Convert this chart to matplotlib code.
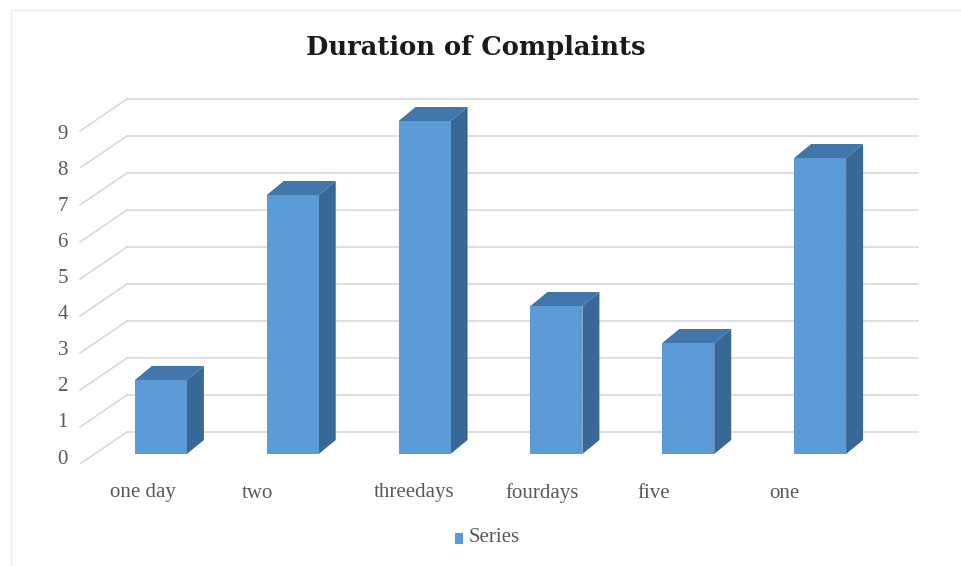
import matplotlib
matplotlib.use("Agg")
import matplotlib.pyplot as plt
from matplotlib.patches import Polygon
from matplotlib.lines import Line2D

categories = ["one day", "two", "threedays", "fourdays", "five", "one"]
values = [2, 7, 9, 4, 3, 8]
y_ticks = list(range(0, 10))
series_name = "Series"
title = "Duration of Complaints"

W, H, DPI = 962, 566, 100
fig = plt.figure(figsize=(W / DPI, H / DPI), dpi=DPI)

# front plane of the plot area (pixels from left / top)
left_px, right_px = 95, 886
zero_px, top_px = 454, 121
ax = fig.add_axes([left_px / W, (H - zero_px) / H,
                   (right_px - left_px) / W, (zero_px - top_px) / H])
n = len(categories)
ax.set_xlim(-0.5, n - 0.5)
ax.set_ylim(0, max(y_ticks))
ax.axis("off")

px_x = (right_px - left_px) / n          # pixels per category
px_y = (zero_px - top_px) / max(y_ticks)  # pixels per value unit


def dx(p):
    return p / px_x


def dy(p):
    return p / px_y


label_font = dict(fontsize=15, color="#595959", family="Liberation Serif")
grid_col = "#d9d9d9"

# back wall gridlines and side-wall diagonals
wall_dx, wall_dy = 32, 22
for v in y_ticks:
    xb0 = -0.5 + dx(wall_dx)
    xb1 = n - 0.5 + dx(wall_dx)
    yb = v + dy(wall_dy)
    ax.add_line(Line2D([xb0, xb1], [yb, yb], color=grid_col, lw=1.2,
                       clip_on=False, zorder=1))
    ax.add_line(Line2D([xb0, -0.5 - dx(15)], [yb, v - dy(10)],
                       color=grid_col, lw=1.2, clip_on=False, zorder=1))
    ax.text(-0.5 - dx(27), v - dy(5 + 0.9 * v), str(v), ha="right", va="center",
            **label_font)

# 3D-style bars
bw = 52 / px_x
ddx, ddy = dx(17), dy(14)
front_col, side_col, top_col = "#5b9bd5", "#3a6896", "#4176aa"
for i, v in enumerate(values):
    x0, x1 = i - bw / 2, i + bw / 2
    ax.add_patch(Polygon([(x1, 0), (x1 + ddx, ddy), (x1 + ddx, v + ddy), (x1, v)],
                         closed=True, facecolor=side_col, edgecolor="none",
                         zorder=3, clip_on=False))
    ax.add_patch(Polygon([(x0, v), (x1, v), (x1 + ddx, v + ddy), (x0 + ddx, v + ddy)],
                         closed=True, facecolor=top_col, edgecolor="none",
                         zorder=3, clip_on=False))
    ax.bar(i, v, width=bw, color=front_col, edgecolor="none", zorder=4,
           clip_on=False)
    ax.text(i - dx(51), -dy(39), categories[i], ha="left", va="center",
            **label_font)

fig.text(476 / W, 1 - 48 / H, title, ha="center", va="center",
         fontsize=18.5, fontweight="bold", color="#1a1a1a", family="DejaVu Serif")

# legend
fig.patches.append(plt.Rectangle((455 / W, 1 - 544 / H), 8 / W, 11 / H,
                                 transform=fig.transFigure, facecolor=front_col,
                                 edgecolor="none"))
fig.text(469 / W, 1 - 538 / H, series_name, ha="left", va="center", **label_font)

# chart border
fig.add_artist(Line2D([11 / W, 1], [1 - 10 / H, 1 - 10 / H], color="#ececec", lw=1,
                      transform=fig.transFigure))
fig.add_artist(Line2D([11 / W, 11 / W], [0, 1 - 10 / H], color="#ececec", lw=1,
                      transform=fig.transFigure))

fig.savefig("out.png", dpi=DPI)
